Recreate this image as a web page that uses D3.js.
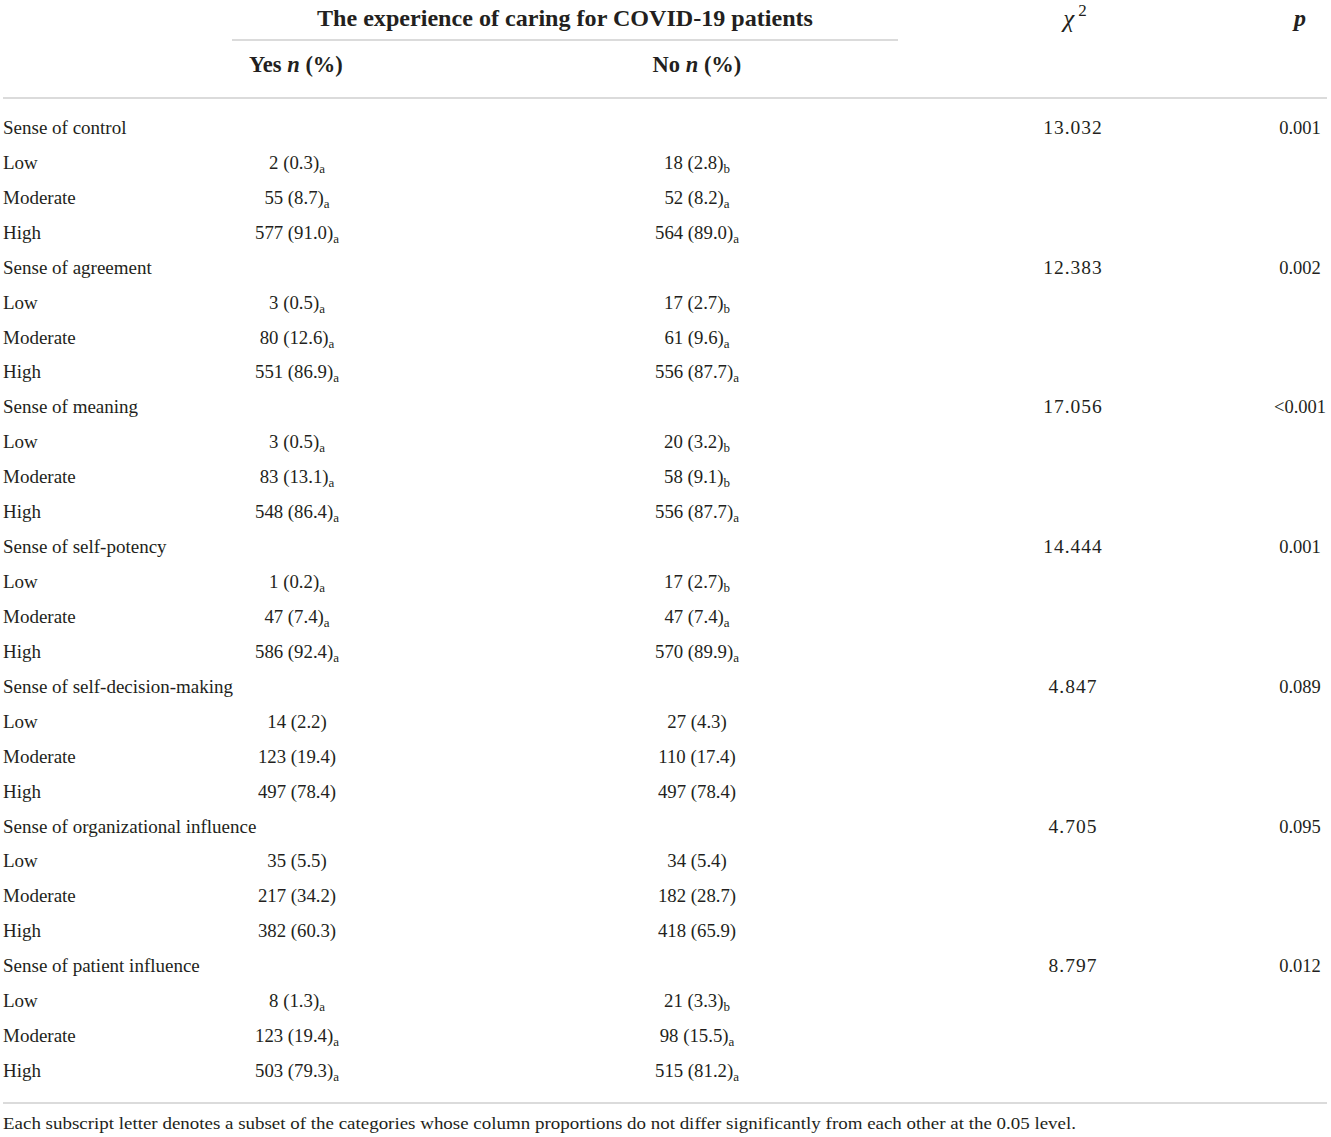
<!DOCTYPE html>
<html>
<head>
<meta charset="utf-8">
<script src="https://cdn.jsdelivr.net/npm/d3@7"></script>
<style>
  body { margin: 0; background: #fff; }
  svg { display: block; font-family: "Liberation Serif", "DejaVu Serif", serif; }
</style>
</head>
<body>
<svg></svg>
<script>
var viewWidth = 1331;
var viewHeight = 1137;

// table data
var groups = ["Sense of control", "Sense of agreement", "Sense of meaning", "Sense of self-potency",
  "Sense of self-decision-making", "Sense of organizational influence", "Sense of patient influence"];
var levels = ["Low", "Moderate", "High"];
var yesN = [[2, 55, 577], [3, 80, 551], [3, 83, 548], [1, 47, 586], [14, 123, 497], [35, 217, 382], [8, 123, 503]];
var yesPct = [["0.3", "8.7", "91.0"], ["0.5", "12.6", "86.9"], ["0.5", "13.1", "86.4"], ["0.2", "7.4", "92.4"],
  ["2.2", "19.4", "78.4"], ["5.5", "34.2", "60.3"], ["1.3", "19.4", "79.3"]];
var yesSub = [["a", "a", "a"], ["a", "a", "a"], ["a", "a", "a"], ["a", "a", "a"], ["", "", ""], ["", "", ""], ["a", "a", "a"]];
var noN = [[18, 52, 564], [17, 61, 556], [20, 58, 556], [17, 47, 570], [27, 110, 497], [34, 182, 418], [21, 98, 515]];
var noPct = [["2.8", "8.2", "89.0"], ["2.7", "9.6", "87.7"], ["3.2", "9.1", "87.7"], ["2.7", "7.4", "89.9"],
  ["4.3", "17.4", "78.4"], ["5.4", "28.7", "65.9"], ["3.3", "15.5", "81.2"]];
var noSub = [["b", "a", "a"], ["b", "a", "a"], ["b", "b", "a"], ["b", "a", "a"], ["", "", ""], ["", "", ""], ["b", "a", "a"]];
var chi2 = ["13.032", "12.383", "17.056", "14.444", "4.847", "4.705", "8.797"];
var pVals = ["0.001", "0.002", "<0.001", "0.001", "0.089", "0.095", "0.012"];
var footnote = "Each subscript letter denotes a subset of the categories whose column proportions do not differ significantly from each other at the 0.05 level.";

var textColor = "#231f20";
var lineColor = "#cfcfcf";

var svg = d3.select("svg")
  .attr("width", viewWidth)
  .attr("height", viewHeight);

// build flat rows
var rows = [];
groups.forEach(function(g, gi) {
  rows.push({type: "group", label: g, chi: chi2[gi], p: pVals[gi]});
  levels.forEach(function(l, li) {
    rows.push({type: "level", label: l,
      yes: yesN[gi][li] + " (" + yesPct[gi][li] + ")", yesSub: yesSub[gi][li],
      no: noN[gi][li] + " (" + noPct[gi][li] + ")", noSub: noSub[gi][li]});
  });
});

var yScale = d3.scaleLinear()
  .domain([0, rows.length - 1])
  .range([128, 1071]);

var xCol = {label: 3, yes: 297, no: 697, chi: 1073, p: 1300};

// header
svg.append("text")
  .attr("x", 565).attr("y", 26)
  .attr("text-anchor", "middle")
  .attr("font-size", 22.5).attr("font-weight", "bold")
  .attr("textLength", 496).attr("lengthAdjust", "spacingAndGlyphs")
  .attr("fill", textColor)
  .text("The experience of caring for COVID-19 patients");

svg.append("line")
  .attr("x1", 232).attr("x2", 898)
  .attr("y1", 40).attr("y2", 40)
  .attr("stroke", lineColor).attr("stroke-width", 1.5);

function headCell(x, main) {
  var t = svg.append("text")
    .attr("x", x).attr("y", 72)
    .attr("text-anchor", "middle")
    .attr("font-size", 22.5).attr("font-weight", "bold")
    .attr("fill", textColor);
  t.append("tspan").text(main + " ");
  t.append("tspan").attr("font-style", "italic").text("n");
  t.append("tspan").text(" (%)");
}
headCell(296, "Yes");
headCell(697, "No");

var chiHead = svg.append("text")
  .attr("x", xCol.chi + 2).attr("y", 27)
  .attr("text-anchor", "middle")
  .attr("font-size", 25).attr("font-style", "italic")
  .attr("fill", textColor);
chiHead.append("tspan").text("χ");
chiHead.append("tspan").attr("dx", 4).attr("dy", -11).attr("font-size", 17).attr("font-style", "normal").text("2");

svg.append("text")
  .attr("x", xCol.p).attr("y", 26)
  .attr("text-anchor", "middle")
  .attr("font-size", 24).attr("font-style", "italic").attr("font-weight", "bold")
  .attr("fill", textColor)
  .text("p");

svg.append("line")
  .attr("x1", 3).attr("x2", 1327)
  .attr("y1", 98).attr("y2", 98)
  .attr("stroke", lineColor).attr("stroke-width", 1.5);

// body rows
var body = svg.append("g")
  .attr("font-size", 19)
  .attr("fill", textColor);

var rowG = body.selectAll("g.row")
  .data(rows)
  .enter()
  .append("g")
  .attr("class", "row")
  .attr("transform", function(d, i) { return "translate(0," + (yScale(i) + 6) + ")"; });

rowG.append("text")
  .attr("x", xCol.label)
  .text(function(d) { return d.label; });

function valueCell(sel, x, key, subKey) {
  var t = sel.filter(function(d) { return d.type === "level"; })
    .append("text")
    .attr("x", x)
    .attr("text-anchor", "middle")
    .attr("font-size", 18.8);
  t.append("tspan").text(function(d) { return d[key]; });
  t.append("tspan")
    .attr("font-size", 13)
    .attr("dy", 4)
    .text(function(d) { return d[subKey]; });
}
valueCell(rowG, xCol.yes, "yes", "yesSub");
valueCell(rowG, xCol.no, "no", "noSub");

var groupRows = rowG.filter(function(d) { return d.type === "group"; });
groupRows.append("text")
  .attr("x", xCol.chi)
  .attr("text-anchor", "middle")
  .attr("font-size", 19.5)
  .attr("letter-spacing", 1)
  .text(function(d) { return d.chi; });
groupRows.append("text")
  .attr("x", xCol.p)
  .attr("text-anchor", "middle")
  .attr("font-size", 18.5)
  .text(function(d) { return d.p; });

svg.append("line")
  .attr("x1", 3).attr("x2", 1327)
  .attr("y1", 1103).attr("y2", 1103)
  .attr("stroke", lineColor).attr("stroke-width", 1.5);

svg.append("text")
  .attr("x", 3).attr("y", 1129)
  .attr("font-size", 16.5)
  .attr("textLength", 1073).attr("lengthAdjust", "spacingAndGlyphs")
  .attr("fill", textColor)
  .text(footnote);
</script>
</body>
</html>
